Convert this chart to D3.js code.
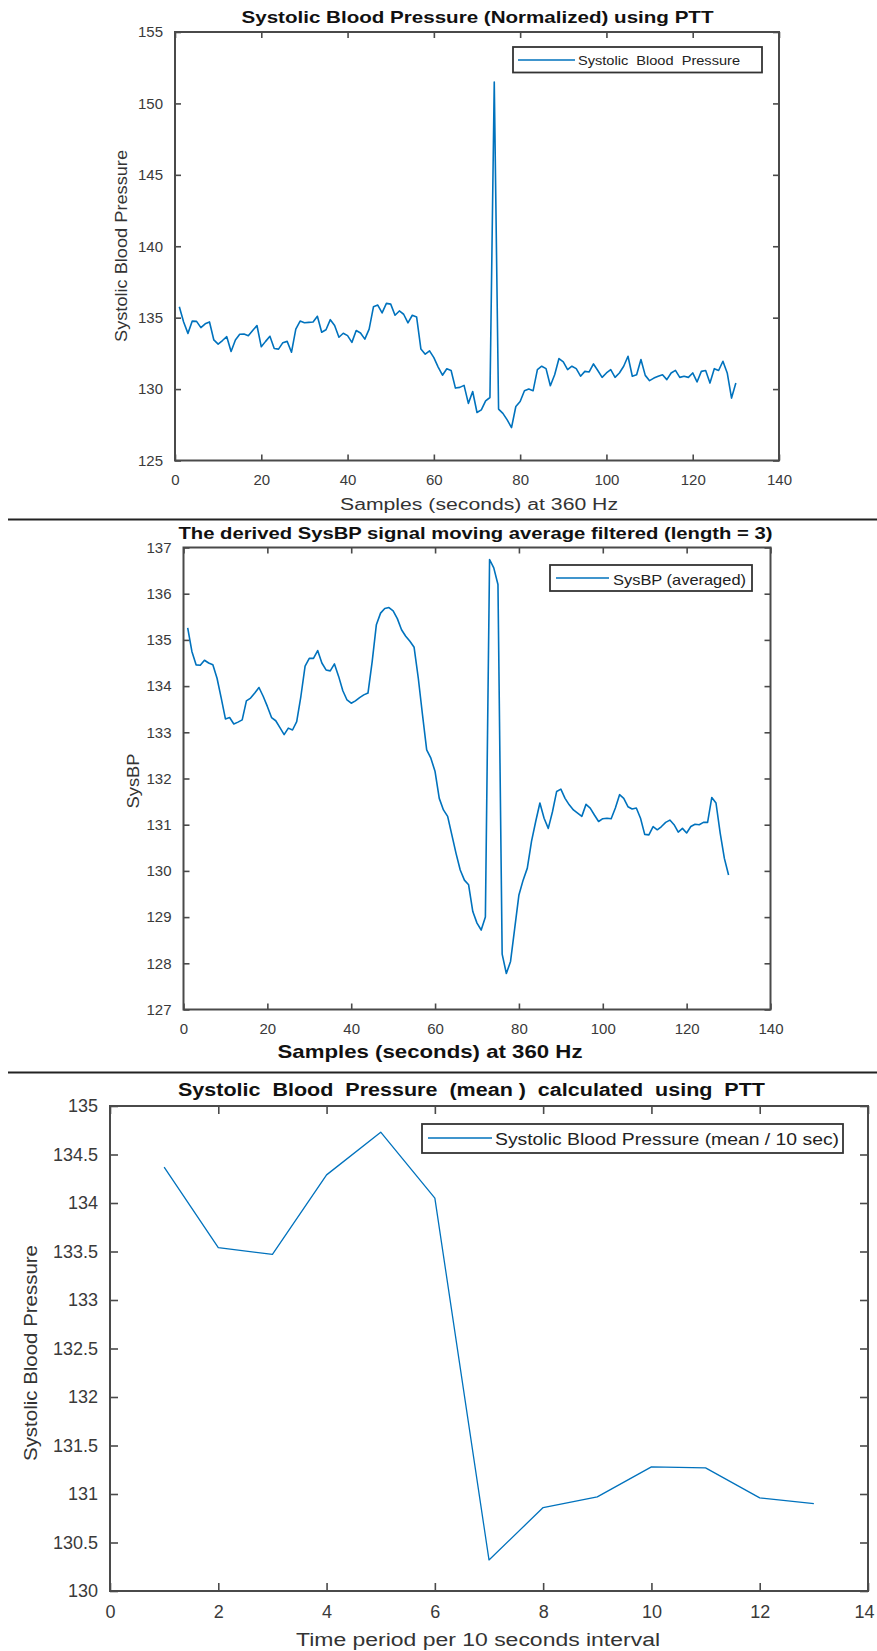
<!DOCTYPE html>
<html>
<head>
<meta charset="utf-8">
<script src="https://cdn.jsdelivr.net/npm/d3@7"></script>
<style>
  html, body { margin: 0; padding: 0; background: #fff; }
  svg { display: block; font-family: "Liberation Sans", Arial, Helvetica, sans-serif; }
  svg text { white-space: pre; }
</style>
</head>
<body>
<svg id="fig" width="877" height="1651"></svg>
<script>
// ---- Panel 1: systolic BP (normalized) per second, samples 1..130 ----
const sysBpNormalized = [
  135.76, 134.70, 133.90, 134.76, 134.74, 134.30, 134.57, 134.70, 133.44, 133.15,
  133.40, 133.67, 132.63, 133.44, 133.84, 133.86, 133.74, 134.10, 134.45, 132.96,
  133.34, 133.70, 132.84, 132.80, 133.25, 133.34, 132.58, 134.20, 134.76, 134.64,
  134.67, 134.70, 135.10, 133.98, 134.15, 134.86, 134.45, 133.63, 133.91, 133.74,
  133.27, 134.10, 133.93, 133.50, 134.20, 135.76, 135.88, 135.33, 136.00, 135.95,
  135.17, 135.47, 135.24, 134.64, 135.17, 135.05, 132.80, 132.44, 132.68, 132.20,
  131.54, 130.97, 131.42, 131.30, 130.07, 130.12, 130.26, 129.00, 129.83, 128.36,
  128.54, 129.18, 129.41, 151.50, 128.60, 128.30, 127.84, 127.30, 128.78, 129.13,
  129.88, 130.00, 129.88, 131.36, 131.60, 131.43, 130.23, 131.00, 132.14, 131.90,
  131.36, 131.60, 131.43, 130.90, 131.24, 131.20, 131.76, 131.30, 130.82, 131.13,
  131.36, 130.82, 131.13, 131.60, 132.30, 130.90, 131.00, 132.07, 130.96, 130.59,
  130.77, 130.90, 131.00, 130.66, 131.13, 131.31, 130.82, 130.90, 130.82, 131.13,
  130.50, 131.24, 131.30, 130.42, 131.43, 131.30, 131.95, 131.13, 129.37, 130.42
];

// ---- Panel 2: same signal after a length-3 moving average ----
const sysBpAveraged = [
  135.26, 134.75, 134.46, 134.45, 134.56, 134.50, 134.46, 134.17, 133.74, 133.29,
  133.32, 133.18, 133.22, 133.27, 133.68, 133.74, 133.85, 133.97, 133.78, 133.56,
  133.32, 133.25, 133.10, 132.95, 133.09, 133.05, 133.23, 133.78, 134.43, 134.60,
  134.60, 134.77, 134.50, 134.35, 134.33, 134.48, 134.21, 133.90, 133.70, 133.63,
  133.68, 133.75, 133.81, 133.85, 134.53, 135.33, 135.58, 135.68, 135.70, 135.63,
  135.46, 135.22, 135.08, 134.97, 134.84, 134.17, 133.38, 132.62, 132.44, 132.15,
  131.57, 131.32, 131.18, 130.78, 130.38, 130.02, 129.80, 129.70, 129.12, 128.87,
  128.72, 129.00, 136.74, 136.56, 136.20, 128.20, 127.78, 128.04, 128.76, 129.48,
  129.80, 130.06, 130.64, 131.07, 131.47, 131.14, 130.92, 131.28, 131.72, 131.77,
  131.57, 131.43, 131.32, 131.25, 131.18, 131.44, 131.36, 131.21, 131.07, 131.13,
  131.14, 131.13, 131.36, 131.65, 131.57, 131.39, 131.34, 131.36, 131.14, 130.79,
  130.78, 130.96, 130.89, 130.96, 131.05, 131.10, 131.00, 130.84, 130.92, 130.82,
  130.96, 131.01, 131.00, 131.05, 131.05, 131.59, 131.47, 130.82, 130.27, 129.91
];

// ---- Panel 3: mean systolic BP per 10-second period ----
const periods = [1, 2, 3, 4, 5, 6, 7, 8, 9, 10, 11, 12, 13];
const sysBpMean = [134.37, 133.54, 133.47, 134.29, 134.73, 134.05, 130.32,
                   130.86, 130.97, 131.28, 131.27, 130.96, 130.90];

// ---- Tick labels ----
const sampleTicks = [0, 20, 40, 60, 80, 100, 120, 140];
const panel1YTicks = [125, 130, 135, 140, 145, 150, 155];
const panel2YTicks = [127, 128, 129, 130, 131, 132, 133, 134, 135, 136, 137];
const periodTicks = [0, 2, 4, 6, 8, 10, 12, 14];
const panel3YTicks = [130, 130.5, 131, 131.5, 132, 132.5, 133, 133.5, 134, 134.5, 135];

const svg = d3.select("#fig");
const LINE = "#0072BD";

function drawPanel(o) {
  const g = svg.append("g");
  const x = d3.scaleLinear().domain(o.xDomain).range([o.left, o.right]);
  const y = d3.scaleLinear().domain(o.yDomain).range([o.bottom, o.top]);

  // box frame
  g.append("rect")
    .attr("x", o.left).attr("y", o.top)
    .attr("width", o.right - o.left).attr("height", o.bottom - o.top)
    .attr("fill", "none").attr("stroke", "#4a4a4a").attr("stroke-width", 2);

  // inward ticks on all four sides, labels on bottom and left
  const fmt = o.yFormat || (d => d);
  const xb = g.append("g").attr("transform", `translate(0,${o.bottom})`)
    .call(d3.axisBottom(x).tickValues(o.xTicks).tickSize(-o.tickLen).tickPadding(o.tickLen + o.xPad).tickFormat(d => d));
  const xt = g.append("g").attr("transform", `translate(0,${o.top})`)
    .call(d3.axisTop(x).tickValues(o.xTicks).tickSize(-o.tickLen).tickFormat(""));
  const yl = g.append("g").attr("transform", `translate(${o.left},0)`)
    .call(d3.axisLeft(y).tickValues(o.yTicks).tickSize(-o.tickLen).tickPadding(o.tickLen + o.yPad).tickFormat(fmt));
  const yr = g.append("g").attr("transform", `translate(${o.right},0)`)
    .call(d3.axisRight(y).tickValues(o.yTicks).tickSize(-o.tickLen).tickFormat(""));
  [xb, xt, yl, yr].forEach(a => {
    a.select(".domain").remove();
    a.selectAll(".tick line").attr("stroke", "#4a4a4a").attr("stroke-width", 1.6);
    a.selectAll(".tick text")
      .attr("fill", "#3a3a3a")
      .style("font-size", o.tickFont + "px")
      .style("font-family", "'Liberation Sans', Arial, sans-serif");
  });
  // keep the last bottom label inside the page edge
  if (o.lastXShift) {
    xb.selectAll(".tick text").filter((d, i, n) => i === n.length - 1).attr("dx", o.lastXShift);
  }

  // data line
  const line = d3.line().x(d => x(d[0])).y(d => y(d[1]));
  g.append("path")
    .datum(o.points)
    .attr("d", line)
    .attr("fill", "none")
    .attr("stroke", LINE)
    .attr("stroke-width", o.lineWidth)
    .attr("stroke-linejoin", "round");

  // titles
  const t = o.title;
  g.append("text")
    .attr("x", t.x).attr("y", t.y)
    .attr("text-anchor", "middle")
    .attr("font-weight", "bold")
    .attr("fill", "#111")
    .style("font-size", t.size + "px")
    .attr("textLength", t.len).attr("lengthAdjust", "spacingAndGlyphs")
    .text(t.text);

  const xl = o.xLabel;
  g.append("text")
    .attr("x", xl.x).attr("y", xl.y)
    .attr("text-anchor", "middle")
    .attr("font-weight", xl.bold ? "bold" : "normal")
    .attr("fill", xl.bold ? "#111" : "#333")
    .style("font-size", xl.size + "px")
    .attr("textLength", xl.len).attr("lengthAdjust", "spacingAndGlyphs")
    .text(xl.text);

  const yLab = o.yLabel;
  g.append("text")
    .attr("transform", `translate(${yLab.x},${yLab.y}) rotate(-90)`)
    .attr("text-anchor", "middle")
    .attr("fill", "#333")
    .style("font-size", yLab.size + "px")
    .attr("textLength", yLab.len).attr("lengthAdjust", "spacingAndGlyphs")
    .text(yLab.text);

  // legend
  const L = o.legend;
  g.append("rect")
    .attr("x", L.x0).attr("y", L.y0)
    .attr("width", L.x1 - L.x0).attr("height", L.y1 - L.y0)
    .attr("fill", "#fff").attr("stroke", "#333").attr("stroke-width", 1.8);
  g.append("line")
    .attr("x1", L.lx0).attr("x2", L.lx1).attr("y1", L.ly).attr("y2", L.ly)
    .attr("stroke", LINE).attr("stroke-width", o.lineWidth);
  g.append("text")
    .attr("x", L.tx).attr("y", L.ty)
    .attr("fill", "#222")
    .style("font-size", L.size + "px")
    .attr("textLength", L.len).attr("lengthAdjust", "spacingAndGlyphs")
    .text(L.text);
}

// Panel 1
drawPanel({
  left: 175, right: 779, top: 32, bottom: 460.5,
  xDomain: [0, 140], yDomain: [125, 155],
  xTicks: sampleTicks, yTicks: panel1YTicks,
  tickLen: 6, xPad: 8, yPad: 6, tickFont: 15,
  points: sysBpNormalized.map((v, i) => [i + 1, v]),
  lineWidth: 1.6,
  title: { text: "Systolic Blood Pressure (Normalized) using PTT", x: 477.5, y: 23, size: 17, len: 472 },
  xLabel: { text: "Samples (seconds) at 360 Hz", x: 479, y: 510, size: 16, len: 278, bold: false },
  yLabel: { text: "Systolic Blood Pressure", x: 127, y: 246, size: 16, len: 192 },
  legend: { x0: 513, x1: 762, y0: 47, y1: 72.5, lx0: 518, lx1: 575, ly: 60,
            tx: 578, ty: 65, size: 13, len: 162, text: "Systolic  Blood  Pressure" }
});

// Panel 2
drawPanel({
  left: 183.5, right: 770.5, top: 547.5, bottom: 1009.5,
  xDomain: [0, 140], yDomain: [127, 137],
  xTicks: sampleTicks, yTicks: panel2YTicks,
  tickLen: 6, xPad: 8, yPad: 6, tickFont: 15,
  points: sysBpAveraged.map((v, i) => [i + 1, v]),
  lineWidth: 1.6,
  title: { text: "The derived SysBP signal moving average filtered (length = 3)", x: 475.5, y: 539, size: 17, len: 594 },
  xLabel: { text: "Samples (seconds) at 360 Hz", x: 430, y: 1058, size: 19, len: 305, bold: true },
  yLabel: { text: "SysBP", x: 139, y: 781, size: 17, len: 55 },
  legend: { x0: 550, x1: 752, y0: 565, y1: 591, lx0: 556, lx1: 609, ly: 578,
            tx: 613, ty: 585, size: 15, len: 133, text: "SysBP (averaged)" }
});

// Panel 3
drawPanel({
  left: 110, right: 868, top: 1106, bottom: 1591,
  xDomain: [0, 14], yDomain: [130, 135],
  xTicks: periodTicks, yTicks: panel3YTicks,
  tickLen: 8, xPad: 6, yPad: 4, tickFont: 18,
  lastXShift: -4,
  yFormat: d => String(d),
  points: periods.map((p, i) => [p, sysBpMean[i]]),
  lineWidth: 1.3,
  title: { text: "Systolic  Blood  Pressure  (mean )  calculated  using  PTT", x: 471.5, y: 1096, size: 18, len: 587 },
  xLabel: { text: "Time period per 10 seconds interval", x: 478, y: 1646, size: 18, len: 364, bold: false },
  yLabel: { text: "Systolic Blood Pressure", x: 37, y: 1353, size: 19, len: 216 },
  legend: { x0: 422, x1: 843, y0: 1124, y1: 1153, lx0: 428, lx1: 492, ly: 1138,
            tx: 495, ty: 1145, size: 16, len: 344, text: "Systolic Blood Pressure (mean / 10 sec)" }
});

// separator rules between the stacked figures
svg.append("line").attr("x1", 8).attr("x2", 877).attr("y1", 519.5).attr("y2", 519.5)
  .attr("stroke", "#222").attr("stroke-width", 2);
svg.append("line").attr("x1", 8).attr("x2", 877).attr("y1", 1072.5).attr("y2", 1072.5)
  .attr("stroke", "#222").attr("stroke-width", 2);
</script>
</body>
</html>
